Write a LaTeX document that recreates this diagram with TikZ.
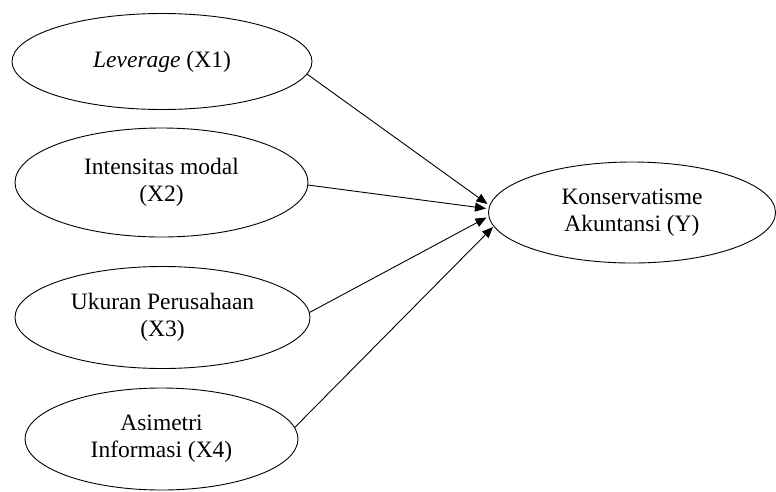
\documentclass[tikz,border=0pt]{standalone}
\usepackage{fontspec}
\setmainfont{Liberation Serif}
\usetikzlibrary{shapes.geometric,arrows.meta}
\begin{document}
\begin{tikzpicture}[x=1pt,y=-1pt,
  var/.style={draw, ellipse, line width=0.9pt, inner sep=0pt, align=center,
    font=\fontsize{23.5}{27}\selectfont},
  link/.style={line width=0.9pt, -{Triangle[length=11pt,width=9pt]}}]
\useasboundingbox (0,0) rectangle (776,491);
\node[var, minimum width=300pt, minimum height=96pt] (x1) at (162,61.5) {\textit{Leverage} (X1)};
\node[var, minimum width=293pt, minimum height=109pt] (x2) at (161.5,182.5) {Intensitas modal\\(X2)};
\node[var, minimum width=295pt, minimum height=102pt] (x3) at (162.5,317.5) {Ukuran Perusahaan\\(X3)};
\node[var, minimum width=273pt, minimum height=102pt] (x4) at (161.5,439) {Asimetri\\Informasi (X4)};
\node[var, minimum width=287pt, minimum height=101pt] (y) at (632,212.5) {Konservatisme\\Akuntansi (Y)};
\coordinate (t1) at (487.5,204);
\coordinate (t2) at (486,208.5);
\coordinate (t3) at (486.5,217.5);
\coordinate (t4) at (493,227);
\draw[link] (x1.-5.3) -- (t1);
\draw[link] (x2.-1) -- (t2);
\draw[link] (x3.2.1) -- (t3);
\draw[link] (x4.5.1) -- (t4);
\end{tikzpicture}
\end{document}
